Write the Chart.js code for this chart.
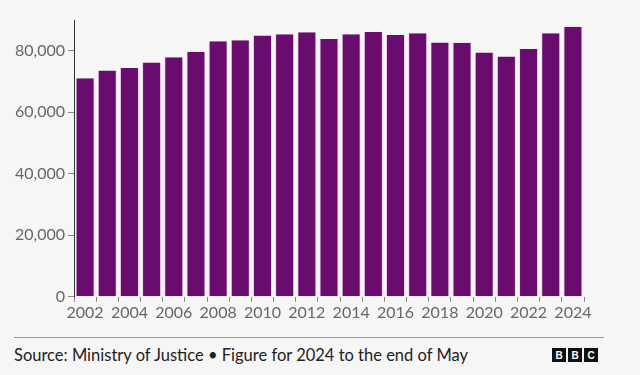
<!DOCTYPE html>
<html>
<head>
<meta charset="utf-8">
<script src="https://cdn.jsdelivr.net/npm/chart.js@4"></script>
<style>
  body { margin: 0; background: #f6f6f6; font-family: Lato, sans-serif; }
  #wrap { position: absolute; left: 0; top: 0; width: 640px; height: 323px; }
  #rule { position: absolute; left: 14px; top: 337px; width: 590px; height: 1px; background: #999; }
  #source { position: absolute; left: 14px; top: 345px; font-size: 16.5px; color: #222; white-space: nowrap; }
  #logo { position: absolute; left: 552px; top: 348px; display: flex; gap: 2px; }
  #logo span { width: 14px; height: 14px; background: #111; color: #fff; font: bold 10px "Liberation Sans", sans-serif; display: flex; align-items: center; justify-content: center; }
</style>
</head>
<body>
<div id="wrap"><canvas id="myChart"></canvas></div>
<div id="rule"></div>
<div id="source">Source: Ministry of Justice • Figure for 2024 to the end of May</div>
<div id="logo"><span>B</span><span>B</span><span>C</span></div>
<script>
const years = ['2002','2003','2004','2005','2006','2007','2008','2009','2010','2011','2012','2013',
               '2014','2015','2016','2017','2018','2019','2020','2021','2022','2023','2024']
const prisonPopulation = [71100, 73600, 74400, 76200, 77900, 79700, 83100, 83400, 85000, 85400, 86000, 83800,
                          85400, 86100, 85100, 85700, 82700, 82600, 79400, 78100, 80600, 85700, 87800]
const yTicks = [0, 20000, 40000, 60000, 80000]

var ctx = document.getElementById('myChart').getContext('2d');
var myChart = new Chart(ctx, {
    type: 'bar',
    data: {
        labels: years,
        datasets: [{
            data: prisonPopulation,
            backgroundColor: '#6a0c6e',
            borderColor: '#f3d2f3',
            borderWidth: {left: 1, right: 1, top: 0, bottom: 0},
            barPercentage: 0.86,
            categoryPercentage: 1
        }]
    },
    options: {
        animation: false,
        responsive: true,
        maintainAspectRatio: false,
        plugins: {
            legend: {display: false},
            tooltip: {enabled: false}
        },
        layout: {
            padding: {left: 0, right: 56, top: 20, bottom: 0}
        },
        scales: {
            x: {
                grid: {drawOnChartArea: false, drawTicks: true, tickLength: 5, color: '#888'},
                border: {display: false},
                ticks: {
                    autoSkip: false,
                    maxRotation: 0,
                    padding: 1,
                    color: '#666',
                    font: {family: 'Lato', size: 16},
                    callback: function(value, index) {
                        return index % 2 === 0 ? years[index] : ''
                    }
                }
            },
            y: {
                min: 0,
                max: 90000,
                afterBuildTicks: function(scale) {
                    scale.ticks = yTicks.map(v => ({value: v}))
                },
                afterFit: function(scale) { scale.width = 74 },
                grid: {drawOnChartArea: false, drawTicks: true, tickLength: 6, color: '#888'},
                border: {display: true, color: '#333'},
                ticks: {
                    padding: 3,
                    color: '#666',
                    font: {family: 'Lato', size: 16},
                    callback: function(value) { return value.toLocaleString('en-GB') }
                }
            }
        }
    }
});
</script>
</body>
</html>
